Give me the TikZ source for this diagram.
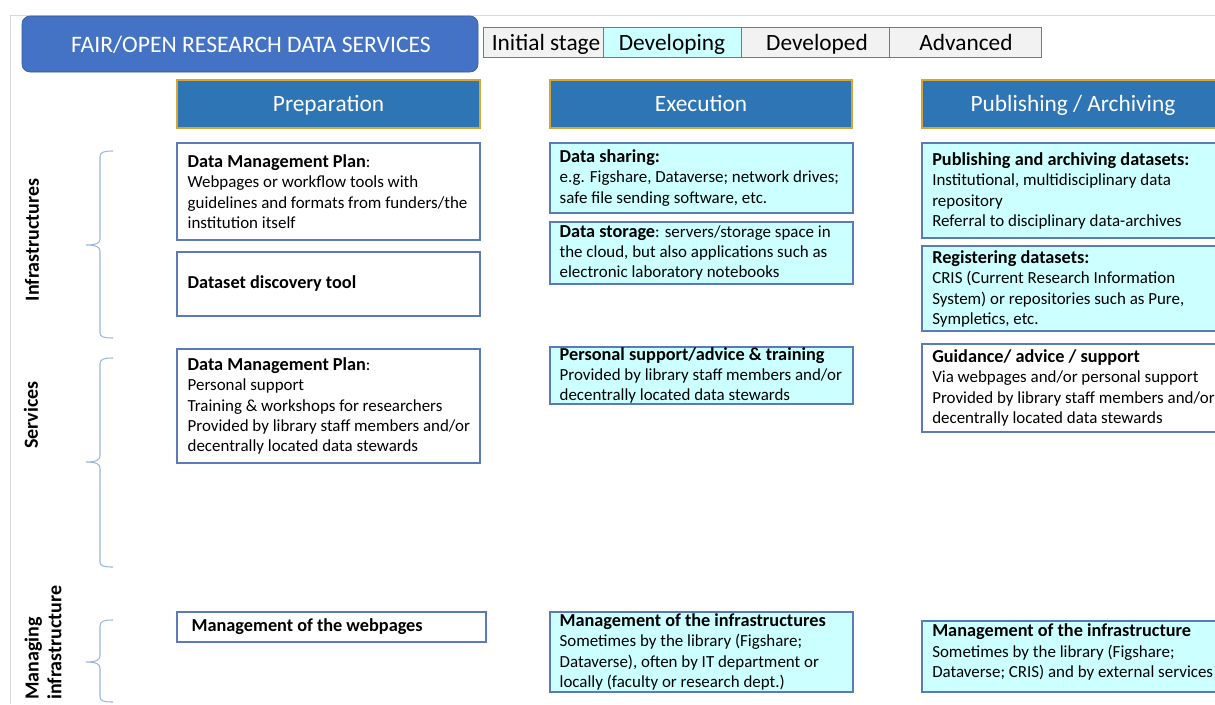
\documentclass[tikz,border=0pt]{standalone}
\usepackage{fontspec}
\setmainfont{Carlito}
\usetikzlibrary{fit,calc}
\definecolor{titleblue}{HTML}{4472C4}
\definecolor{headblue}{HTML}{2E75B6}
\definecolor{gold}{HTML}{D4A537}
\definecolor{cyanfill}{HTML}{CCFFFF}
\definecolor{stagegray}{HTML}{F2F2F2}
\definecolor{boxline}{HTML}{5A7AB8}
\definecolor{framegray}{HTML}{D9D9D9}
\definecolor{bracecol}{HTML}{9DB6E0}
\newcommand{\boxhead}[1]{{\fontsize{13.7}{15.3}\selectfont\bfseries #1}}
\tikzset{
  bodyfont/.style={font=\fontsize{12.7}{15.3}\selectfont},
  box/.style={draw=boxline, line width=0.9pt, fill=white, inner sep=0pt},
  cbox/.style={box, fill=cyanfill},
  txt/.style={bodyfont, inner sep=0pt, align=left, anchor=west, text=black},
  header/.style={draw=gold, line width=0.8pt, fill=headblue, inner sep=0pt},
  headtext/.style={text=white, font=\fontsize{17.5}{20}\selectfont, inner sep=0pt, anchor=base},
  stagebox/.style={draw=boxline, line width=0.7pt, inner sep=0pt},
  stagetext/.style={font=\fontsize{17.5}{20}\selectfont, inner sep=0pt, text=black, anchor=base},
  sidelabel/.style={rotate=90, font=\bfseries\fontsize{15}{17}\selectfont, align=left, inner sep=0pt},
  bracepath/.style={draw=bracecol, line width=0.8pt},
}
\begin{document}
\begin{tikzpicture}[x=0.75pt, y=-0.75pt]
\useasboundingbox (0,0) rectangle (1215,704);
\clip (0,0) rectangle (1215,704);
% faint frame
\draw[framegray, line width=0.6pt] (10,704) -- (10,15) -- (1216,15);
% title
\node[fill=titleblue, draw=titleblue!80!black, line width=0.5pt, rounded corners=6pt, inner sep=0pt, fit={(22,16) (478,72)}] (title) {};
\node[text=white, font=\fontsize{17.7}{20}\selectfont, inner sep=0pt] (titlet) at ($(title.center)+(1,1)$) {FAIR/OPEN RESEARCH DATA SERVICES};
% stages
\node[stagebox, fill=stagegray, fit={(483,27) (603,57)}] (s1) {};
\node[stagebox, fill=cyanfill, fit={(603,27) (741,57)}] (s2) {};
\node[stagebox, fill=stagegray, fit={(741,27) (889,57)}] (s3) {};
\node[stagebox, fill=stagegray, fit={(889,27) (1041,57)}] (s4) {};
\node[stagetext] (s1t) at ($(s1.center |- 0,50)+(3,0)$) {Initial stage};
\node[stagetext] (s2t) at ($(s2.center |- 0,50)+(0,0)$) {Developing};
\node[stagetext] (s3t) at ($(s3.center |- 0,50)+(2,0)$) {Developed};
\node[stagetext] (s4t) at ($(s4.center |- 0,50)+(1,0)$) {Advanced};
% headers
\node[header, fit={(177,80) (480,128)}] (hprep) {};
\node[header, fit={(550,80) (852,128)}] (hexec) {};
\node[header, fit={(922,80) (1230,128)}] (hpub) {};
\node[headtext] (hprept) at (hprep.center |- 0,111) {Preparation};
\node[headtext] (hexect) at (hexec.center |- 0,111) {Execution};
\node[headtext] (hpubt) at (1073,111) {Publishing / Archiving};
% side labels
\node[sidelabel] (linf) at (32,240) {Infrastructures};
\node[sidelabel] (lserv) at (31,415) {Services};
\node[sidelabel, anchor=west] (lman) at (43,700) {Managing\\infrastructure};
% braces
\draw[bracepath] (113,151) .. controls (104,151) and (100,152) .. (100,157) -- (100,239) .. controls (100,243) and (96,245) .. (86,245) .. controls (96,245) and (100,247) .. (100,251) -- (100,333) .. controls (100,337) and (104,338) .. (113,338);
\draw[bracepath] (113,358) .. controls (104,358) and (100,359) .. (100,364) -- (100,456) .. controls (100,460) and (96,462) .. (86,462) .. controls (96,462) and (100,464) .. (100,468) -- (100,562) .. controls (100,566) and (104,567) .. (113,567);
\draw[bracepath] (113,620) .. controls (104,620) and (100,621) .. (100,626) -- (100,656) .. controls (100,660) and (96,662) .. (86,662) .. controls (96,662) and (100,664) .. (100,668) -- (100,697) .. controls (100,701) and (104,702) .. (113,702);
% Preparation column
\node[box, fit={(177,143) (480,240)}] (p1) {};
\node[txt] (p1t) at ($(p1.west)+(11,0)$) {\boxhead{Data Management Plan}:\\Webpages or workflow tools with\\guidelines and formats from funders/the\\institution itself};
\node[box, fit={(177,252) (480,316)}] (p2) {};
\node[txt] (p2t) at ($(p2.west)+(11,0)$) {\boxhead{Dataset discovery tool}};
\node[box, fit={(177,349) (480,463)}] (p3) {};
\node[txt] (p3t) at ($(p3.west)+(11,0)$) {\boxhead{Data Management Plan}:\\Personal support\\Training \& workshops for researchers\\Provided by library staff members and/or\\decentrally located data stewards};
\node[box, fit={(177,612) (486,642)}] (p4) {};
\node[txt] (p4t) at ($(p4.west)+(15,0)$) {\boxhead{Management of the webpages}};
% Execution column
\node[cbox, fit={(550,143) (853,213)}] (e1) {};
\node[txt] (e1t) at ($(e1.west)+(10,0)$) {\boxhead{Data sharing:}\\e.g. Figshare, Dataverse; network drives;\\safe file sending software, etc.};
\node[cbox, fit={(550,222) (853,284)}] (e2) {};
\node[txt] (e2t) at ($(e2.west)+(10,0)$) {\boxhead{Data storage}: servers/storage space in\\the cloud, but also applications such as\\electronic laboratory notebooks};
\node[cbox, fit={(550,347) (853,404)}] (e3) {};
\node[txt] (e3t) at ($(e3.west)+(10,0)$) {\boxhead{Personal support/advice \& training}\\Provided by library staff members and/or\\decentrally located data stewards};
\node[cbox, fit={(550,612) (853,692)}] (e4) {};
\node[txt] (e4t) at ($(e4.west)+(10,0)$) {\boxhead{Management of the infrastructures}\\Sometimes by the library (Figshare;\\Dataverse), often by IT department or\\locally (faculty or research dept.)};
% Publishing column
\node[cbox, fit={(922,143) (1230,238)}] (u1) {};
\node[txt] (u1t) at (932,191) {\boxhead{Publishing and archiving datasets:}\\Institutional, multidisciplinary data\\repository\\Referral to disciplinary data-archives};
\node[cbox, fit={(922,246) (1230,331)}] (u2) {};
\node[txt] (u2t) at (932,289) {\boxhead{Registering datasets:}\\CRIS (Current Research Information\\System) or repositories such as Pure,\\Sympletics, etc.};
\node[box, fit={(922,344) (1230,432)}] (u3) {};
\node[txt] (u3t) at (932,388) {\boxhead{Guidance/ advice / support}\\Via webpages and/or personal support\\Provided by library staff members and/or\\decentrally located data stewards};
\node[cbox, fit={(922,621) (1230,692)}] (u4) {};
\node[txt] (u4t) at (932,652) {\boxhead{Management of the infrastructure}\\Sometimes by the library (Figshare;\\Dataverse; CRIS) and by external services};
\end{tikzpicture}
\end{document}
